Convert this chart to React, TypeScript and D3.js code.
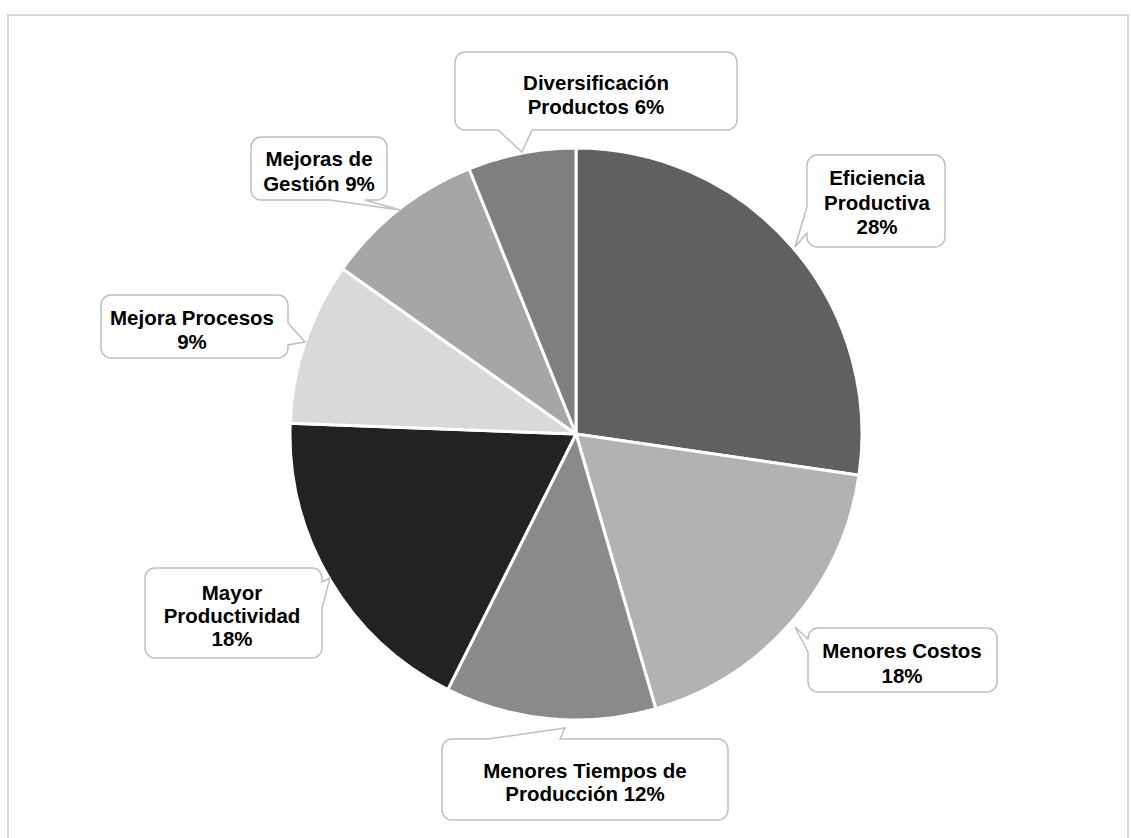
import React from "react";
import * as d3 from "d3";

const categories = [
  "Eficiencia Productiva",
  "Menores Costos",
  "Menores Tiempos de Producción",
  "Mayor Productividad",
  "Mejora Procesos",
  "Mejoras de Gestión",
  "Diversificación Productos",
];
// slice sizes
const values = [27.3, 18.2, 11.9, 18.2, 9.2, 9.1, 6.1];
// percentages printed in the labels
const percentLabels = ["28%", "18%", "12%", "18%", "9%", "9%", "6%"];
const labelLines = [
  ["Eficiencia", "Productiva", "28%"],
  ["Menores Costos", "18%"],
  ["Menores Tiempos de", "Producción 12%"],
  ["Mayor", "Productividad", "18%"],
  ["Mejora Procesos", "9%"],
  ["Mejoras de", "Gestión 9%"],
  ["Diversificación", "Productos 6%"],
];
const colors = ["#606060", "#b2b2b2", "#8a8a8a", "#222222", "#d9d9d9", "#a6a6a6", "#7f7f7f"];

type Callout = {
  x: number; y: number; w: number; h: number;
  side: "top" | "bottom" | "left" | "right";
  b1: number; b2: number; tx: number; ty: number;
  cx: number; ly: number[];
};

const callouts: Callout[] = [
  { x: 807, y: 155, w: 138, h: 92, side: "left", b1: 207, b2: 233, tx: 795, ty: 247, cx: 877, ly: [177, 202, 226] },
  { x: 808, y: 628, w: 189, h: 64, side: "left", b1: 639, b2: 652, tx: 795, ty: 627, cx: 902, ly: [650, 675] },
  { x: 442, y: 739, w: 286, h: 81, side: "top", b1: 488, b2: 560, tx: 565, ty: 728, cx: 585, ly: [770, 793] },
  { x: 145, y: 568, w: 177, h: 90, side: "right", b1: 582, b2: 608, tx: 330, ty: 578, cx: 232, ly: [592, 615, 638] },
  { x: 101, y: 295, w: 187, h: 63, side: "right", b1: 323, b2: 345, tx: 305, ty: 342, cx: 192, ly: [317, 341] },
  { x: 251, y: 137, w: 136, h: 63, side: "bottom", b1: 330, b2: 365, tx: 400, ty: 210, cx: 319, ly: [158, 183] },
  { x: 455, y: 52, w: 282, h: 78, side: "bottom", b1: 498, b2: 532, tx: 522, ty: 152, cx: 596, ly: [82, 106] },
];

function calloutPath(c: Callout): string {
  const r = 10;
  const { x, y, w, h } = c;
  const x2 = x + w, y2 = y + h;
  const p = d3.path();
  p.moveTo(x + r, y);
  if (c.side === "top") {
    p.lineTo(c.b1, y); p.lineTo(c.tx, c.ty); p.lineTo(c.b2, y);
  }
  p.lineTo(x2 - r, y);
  p.arcTo(x2, y, x2, y + r, r);
  if (c.side === "right") {
    p.lineTo(x2, c.b1); p.lineTo(c.tx, c.ty); p.lineTo(x2, c.b2);
  }
  p.lineTo(x2, y2 - r);
  p.arcTo(x2, y2, x2 - r, y2, r);
  if (c.side === "bottom") {
    p.lineTo(c.b2, y2); p.lineTo(c.tx, c.ty); p.lineTo(c.b1, y2);
  }
  p.lineTo(x + r, y2);
  p.arcTo(x, y2, x, y2 - r, r);
  if (c.side === "left") {
    p.lineTo(x, c.b2); p.lineTo(c.tx, c.ty); p.lineTo(x, c.b1);
  }
  p.lineTo(x, y + r);
  p.arcTo(x, y, x + r, y, r);
  p.closePath();
  return p.toString();
}

export default function App() {
  const W = 1131, H = 838;
  const cx = 576, cy = 434, R = 286;
  const pie = d3.pie<number>().sort(null).value((d) => d);
  const arcs = pie(values);
  const arc = d3.arc<d3.PieArcDatum<number>>().innerRadius(0).outerRadius(R);

  return (
    <svg
      width={W}
      height={H}
      style={{ position: "absolute", left: 0, top: 0, background: "#fff" }}
      fontFamily="'Liberation Sans', Arial, sans-serif"
    >
      <rect x={8} y={15} width={1120} height={900} fill="#fff" stroke="#d9d9d9" strokeWidth={2} />
      <g transform={`translate(${cx},${cy})`}>
        {arcs.map((a, i) => (
          <path key={categories[i]} d={arc(a) || ""} fill={colors[i]} stroke="#fff" strokeWidth={3} strokeLinejoin="round" />
        ))}
      </g>
      {callouts.map((c, i) => (
        <g key={"c" + i}>
          <path d={calloutPath(c)} fill="#fff" stroke="#bfbfbf" strokeWidth={1.5} />
          {labelLines[i].map((t, j) => (
            <text
              key={j}
              x={c.cx}
              y={c.ly[j]}
              textAnchor="middle"
              dominantBaseline="central"
              fontSize={20.5}
              fontWeight="bold"
              fill="#000"
            >
              {t}
            </text>
          ))}
        </g>
      ))}
    </svg>
  );
}
